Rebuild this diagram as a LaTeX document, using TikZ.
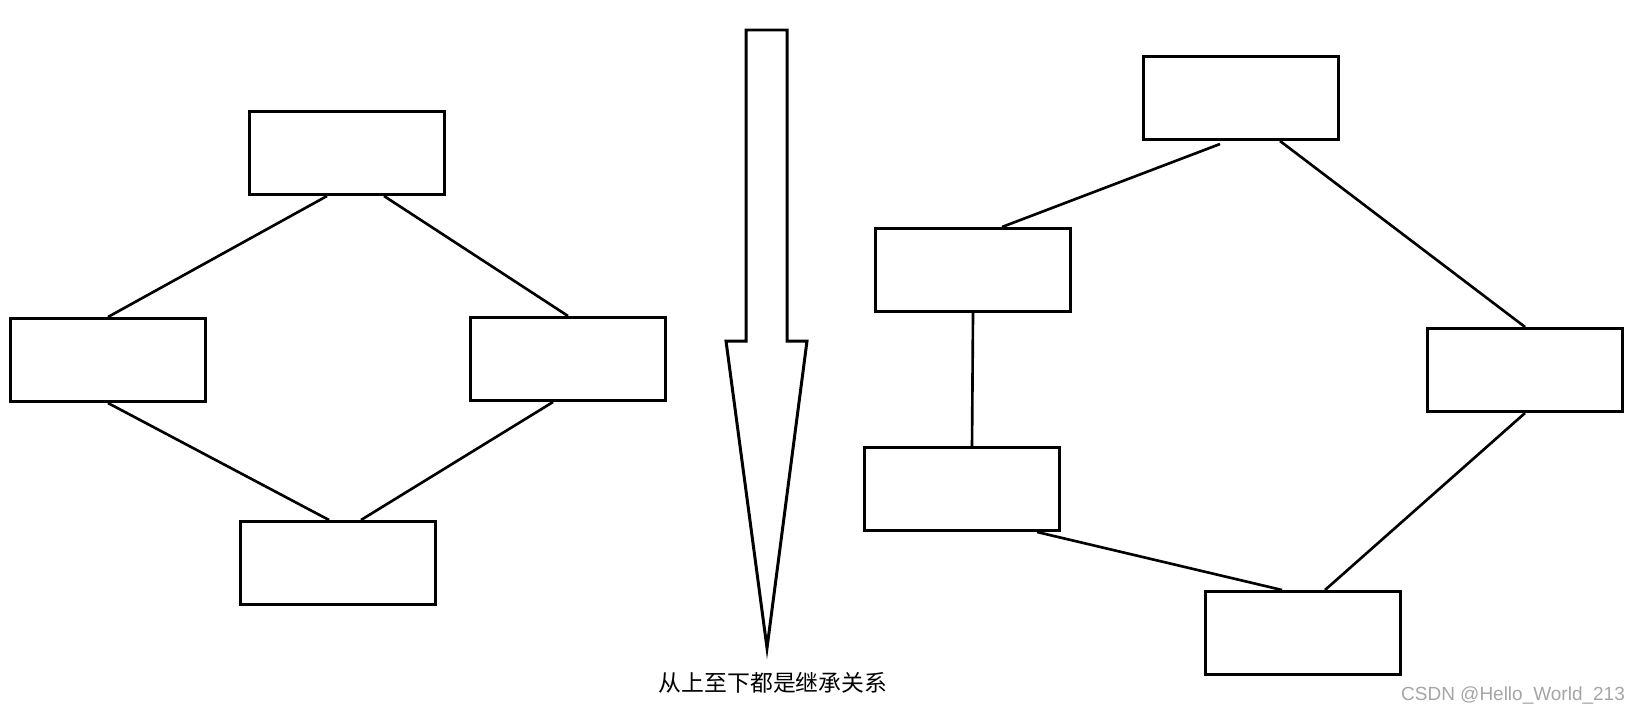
\documentclass[tikz,border=0pt]{standalone}
\usepackage{fontspec}
\usepackage{tikz}
\usetikzlibrary{calc}
\newfontfamily\cjk{Noto Sans CJK SC}
\newfontfamily\wmfont{Liberation Sans}
\definecolor{WMGray}{RGB}{165,165,165}

\begin{document}
\begin{tikzpicture}[x=0.01cm, y=-0.01cm,
            box/.style={rectangle, draw=black, line width=0.85pt, inner sep=0pt,
                        minimum width=1.94cm, minimum height=0.83cm},
            link/.style={draw=black, line width=0.75pt}
          ]
          \useasboundingbox (0,0) rectangle (1640,715);

          % left diamond
          \node[box] (lt) at (347, 153) {};
          \node[box] (ll) at (108, 360) {};
          \node[box] (lr) at (568, 359) {};
          \node[box] (lb) at (338, 563) {};

          \draw[link] ([xshift=-0.2cm]lt.south)--(ll.north);
          \draw[link] ([xshift=0.37cm]lt.south)--(lr.north);
          \draw[link] (ll.south)--([xshift=-0.09cm]lb.north);
          \draw[link] ([xshift=-0.15cm]lr.south)--([xshift=0.23cm]lb.north);

          % arrow in the middle
          \draw[line width=0.85pt] (746, 30) -- (787, 30) -- (787, 341) -- (807, 341)
                -- (767, 648) -- (726, 341) -- (746, 341) -- cycle;
          \node[font=\cjk\fontsize{6.5}{8}\selectfont] (note) at (773, 683)
                {从上至下都是继承关系};

          % right ring
          \node[box] (rt) at (1241,  98) {};
          \node[box] (rm) at (973,  270) {};
          \node[box] (rr) at (1525, 370) {};
          \node[box] (rl) at (962,  489) {};
          \node[box] (rb) at (1303, 633) {};

          \draw[link] ([xshift=-0.21cm, yshift=-0.03cm]rt.south)--([xshift=0.29cm]rm.north);
          \draw[link] ([xshift=0.39cm]rt.south)--(rr.north);
          \draw[link] (rm.south)--([xshift=0.1cm]rl.north);
          \draw[link] (rr.south)--([xshift=0.22cm]rb.north);
          \draw[link] ([xshift=0.75cm]rl.south)--([xshift=-0.21cm]rb.north);

          \node[font=\wmfont\fontsize{5.4}{6.5}\selectfont, text=WMGray] (mark)
                at (1513, 695) {CSDN @Hello\_World\_213};
        \end{tikzpicture}
\end{document}
